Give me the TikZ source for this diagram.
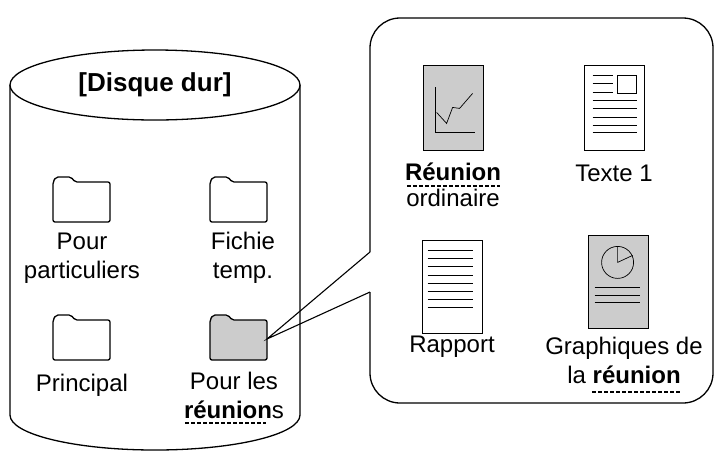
\documentclass[tikz,border=0pt]{standalone}
\usepackage{fontspec}
\setmainfont{Liberation Sans}
\usetikzlibrary{positioning}
\tikzset{
  lbl/.style={font=\fontsize{24}{29}\selectfont,align=center,inner sep=0pt},
  doc/.style={draw,line width=0.8pt,minimum width=60pt,minimum height=85pt,inner sep=0pt},
  ln/.style={line width=0.7pt},
  ul/.style={dash pattern=on 4pt off 2pt,line width=1.5pt}
}
\newcommand{\fold}[3]{% y (top), x (left), fill
  \draw[line width=1.3pt,rounded corners=2pt,fill=#3] (#2,#1+45) -- (#2,#1+5) -- (#2+3,#1) -- (#2+18,#1) -- (#2+22,#1+5) -- (#2+57,#1+5) -- (#2+57,#1+45) -- cycle;}
\begin{document}
\begin{tikzpicture}[x=1pt,y=-1pt]
\useasboundingbox (0,0) rectangle (723,459);
% cylinder
\draw[line width=1.3pt] (10,85) -- (10,415) arc[start angle=180,end angle=0,x radius=145,y radius=35] -- (300,85);
\draw[line width=1.3pt,fill=white] (155,85) ellipse[x radius=145,y radius=35];
\node[lbl,font=\fontsize{26}{30}\selectfont\bfseries] (disk) at (155,85) {[Disque dur]};
% folders
\fold{177}{53}{white}
\fold{177}{210}{white}
\fold{315}{53}{white}
\fold{315}{210}{black!20}
\coordinate (tip) at (267,339);
\node[lbl] (perso) at (82,258) {Pour\\particuliers};
\node[lbl] (temp) at (243,258) {Fichie\\temp.};
\node[lbl] (princ) at (82,385) {Principal};
\node[lbl] (meet) at (234,395) {Pour les\\\textbf{réunion}s};
\draw[ul] (185,423) -- (266,423);
% callout box
\coordinate (c1) at (370,252);
\coordinate (c2) at (370,292);
\draw[line width=1.3pt] (c1) -- (370,48) arc[start angle=180,end angle=270,radius=30] -- (683,18) arc[start angle=270,end angle=360,radius=30] -- (713,373) arc[start angle=0,end angle=90,radius=30] -- (400,403) arc[start angle=90,end angle=180,radius=30] -- (c2);
\draw[line width=1.1pt] (c1) -- (tip) -- (c2);
% documents
\node[doc,fill=black!20] (d1) at (453,107.5) {};
\draw[ln] ([shift={(13,-63)}]d1.south west) -- ([shift={(13,-18)}]d1.south west) -- ([shift={(52,-18)}]d1.south west);
\draw[ln] ([shift={(14,-38)}]d1.south west) -- ([shift={(24,-27)}]d1.south west) -- ([shift={(30,-43)}]d1.south west) -- ([shift={(37,-42)}]d1.south west) -- ([shift={(50,-57)}]d1.south west);
\node[lbl] (n1a) at (453,172) {\textbf{Réunion}};
\node[lbl] (n1b) at (453,198) {ordinaire};
\draw[ul] (407,186) -- (500,186);
\node[doc,fill=white] (d2) at (614,107.5) {};
\draw[ln] ([shift={(34,-75)}]d2.south west) rectangle ([shift={(53,-57)}]d2.south west);
\foreach \y in {-75,-67,-58} \draw[ln] ([shift={(9,\y)}]d2.south west) -- ([shift={(29,\y)}]d2.south west);
\foreach \y in {-50,-42,-33,-25,-18} \draw[ln] ([shift={(9,\y)}]d2.south west) -- ([shift={(53,\y)}]d2.south west);
\node[lbl] (n2) at (614,173) {Texte 1};
\node[doc,fill=white,minimum height=93pt] (d3) at (452,286.5) {};
\foreach \y in {-83,-75,-67,-58,-50,-42,-34,-26} \draw[ln] ([shift={(6,\y)}]d3.south west) -- ([shift={(51,\y)}]d3.south west);
\node[lbl] (n3) at (452,347) {Rapport};
\node[doc,fill=black!20,minimum height=93pt] (d4) at (618,281.5) {};
\draw[ln] ([shift={(30,-66)}]d4.south west) circle[radius=16];
\draw[ln] ([shift={(30,-82)}]d4.south west) -- ([shift={(30,-66)}]d4.south west) -- ([shift={(45,-73)}]d4.south west);
\foreach \y in {-41,-33,-26} \draw[ln] ([shift={(7,\y)}]d4.south west) -- ([shift={(52,\y)}]d4.south west);
\node[lbl] (n4) at (624,360) {Graphiques de\\la \textbf{réunion}};
\draw[ul] (592,392) -- (680,392);
\end{tikzpicture}
\end{document}
